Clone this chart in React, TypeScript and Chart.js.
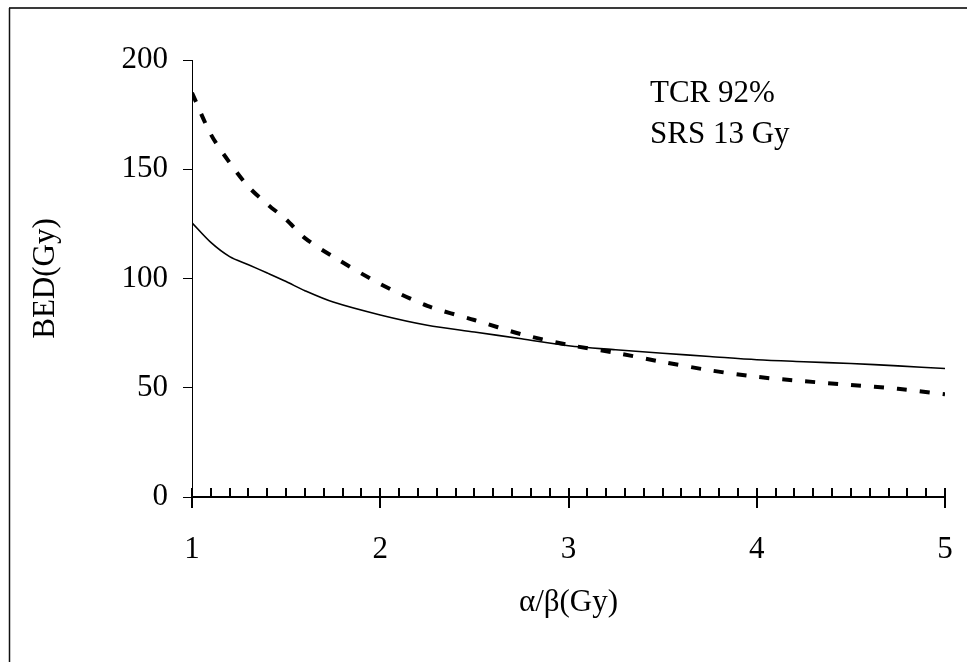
import React, { useEffect, useRef } from "react";
import { Chart, registerables } from "chart.js";

Chart.register(...registerables);

const alphaBeta = [1, 1.1, 1.2, 1.3, 1.4, 1.5, 1.6, 1.75, 2, 2.25, 2.5, 2.75, 3, 3.25, 3.5, 3.75, 4, 4.25, 4.5, 4.75, 5];
const bedSolid = [125.5, 116.5, 110, 106.3, 102.5, 98.6, 94.4, 89.2, 83.3, 78.6, 75.5, 72.4, 69.2, 67.4, 65.8, 64.3, 62.8, 61.9, 61.1, 60, 58.8];
const bedDashed = [185, 166, 153, 142, 134, 127, 118.5, 110, 97.5, 87.5, 81, 74.5, 69.6, 66, 61.8, 58, 55, 53, 51.3, 49.5, 47];
const xTickValues = [1, 2, 3, 4, 5];
const yTickValues = [0, 50, 100, 150, 200];
const annotationLines = ["TCR 92%", "SRS 13 Gy"];
const xTitle = "α/β(Gy)";
const yTitle = "BED(Gy)";

const FONT = '"Liberation Serif", "Times New Roman", serif';

export default function App() {
  const ref = useRef<HTMLCanvasElement | null>(null);

  useEffect(() => {
    const canvas = ref.current;
    if (!canvas) return;

    const framePlugin = {
      id: "frame",
      beforeDraw(chart: any) {
        const ctx = chart.ctx;
        ctx.save();
        ctx.fillStyle = "#ffffff";
        ctx.fillRect(0, 0, chart.width, chart.height);
        ctx.strokeStyle = "#3a3a3a";
        ctx.lineWidth = 2;
        ctx.beginPath();
        ctx.moveTo(9, 8);
        ctx.lineTo(chart.width, 8);
        ctx.stroke();
        ctx.strokeStyle = "#111";
        ctx.lineWidth = 1.5;
        ctx.beginPath();
        ctx.moveTo(9.5, 8);
        ctx.lineTo(9.5, chart.height);
        ctx.stroke();
        ctx.restore();
      },
    };

    const minorTicksPlugin = {
      id: "minorTicks",
      afterDraw(chart: any) {
        const ctx = chart.ctx;
        const xs = chart.scales.x;
        const bottom = chart.chartArea.bottom;
        ctx.save();
        ctx.strokeStyle = "#000";
        ctx.lineWidth = 2;
        for (let i = 10; i <= 50; i++) {
          const px = Math.round(xs.getPixelForValue(i / 10));
          ctx.beginPath();
          ctx.moveTo(px, bottom);
          ctx.lineTo(px, bottom - 9);
          ctx.stroke();
        }
        ctx.restore();
      },
    };

    const annotationPlugin = {
      id: "annotation",
      afterDraw(chart: any) {
        const ctx = chart.ctx;
        const ca = chart.chartArea;
        ctx.save();
        ctx.fillStyle = "#000";
        ctx.font = `31px ${FONT}`;
        ctx.textAlign = "left";
        ctx.textBaseline = "alphabetic";
        annotationLines.forEach((t, i) => {
          ctx.fillText(t, ca.left + 458, ca.top + 42 + i * 41);
        });
        ctx.restore();
      },
    };

    const chart = new Chart(canvas, {
      type: "line",
      data: {
        datasets: [
          {
            label: "solid",
            data: alphaBeta.map((x, i) => ({ x, y: bedSolid[i] })),
            borderColor: "#000",
            borderWidth: 1.6,
            pointRadius: 0,
            tension: 0.3,
            fill: false,
          },
          {
            label: "dashed",
            data: alphaBeta.map((x, i) => ({ x, y: bedDashed[i] })),
            borderColor: "#000",
            borderWidth: 4,
            borderDash: [10, 13],
            borderCapStyle: "butt",
            pointRadius: 0,
            tension: 0.3,
            fill: false,
          },
        ],
      },
      options: {
        responsive: false,
        animation: false,
        devicePixelRatio: 1,
        layout: { padding: { top: 60, right: 22, bottom: 0, left: 0 } },
        plugins: { legend: { display: false }, title: { display: false }, tooltip: { enabled: false } },
        scales: {
          x: {
            type: "linear",
            min: 1,
            max: 5,
            afterBuildTicks(scale: any) {
              scale.ticks = xTickValues.map((v) => ({ value: v }));
            },
            afterFit(scale: any) {
              scale.height = 165;
              scale.paddingLeft = 0;
              scale.paddingRight = 0;
            },
            ticks: {
              color: "#000",
              font: { family: FONT, size: 31 },
              padding: 23,
              maxRotation: 0,
              callback: (v: any) => String(v),
            },
            grid: {
              display: true,
              drawOnChartArea: false,
              drawTicks: true,
              tickLength: 11,
              color: "#000",
              lineWidth: 2,
            },
            border: { display: true, color: "#000", width: 2 },
            title: {
              display: true,
              text: xTitle,
              color: "#000",
              font: { family: FONT, size: 31 },
              padding: { top: 0, bottom: 41 },
            },
          },
          y: {
            type: "linear",
            min: 0,
            max: 200,
            afterBuildTicks(scale: any) {
              scale.ticks = yTickValues.map((v) => ({ value: v }));
            },
            afterFit(scale: any) {
              scale.width = 192;
              scale.paddingTop = 0;
              scale.paddingBottom = 0;
            },
            ticks: {
              color: "#000",
              font: { family: FONT, size: 31 },
              padding: 15,
              callback: (v: any) => String(v),
            },
            grid: {
              display: true,
              drawOnChartArea: false,
              drawTicks: true,
              tickLength: 9,
              color: "#000",
              lineWidth: 1,
            },
            border: { display: true, color: "#000", width: 1 },
            title: {
              display: true,
              text: yTitle,
              color: "#000",
              font: { family: FONT, size: 31 },
              padding: { top: 27, bottom: 0 },
            },
          },
        },
      },
      plugins: [framePlugin, minorTicksPlugin, annotationPlugin],
    });

    return () => chart.destroy();
  }, []);

  return (
    <div style={{ position: "absolute", left: 0, top: 0, width: 967, height: 662 }}>
      <canvas ref={ref} width={967} height={662} style={{ display: "block" }} />
    </div>
  );
}
